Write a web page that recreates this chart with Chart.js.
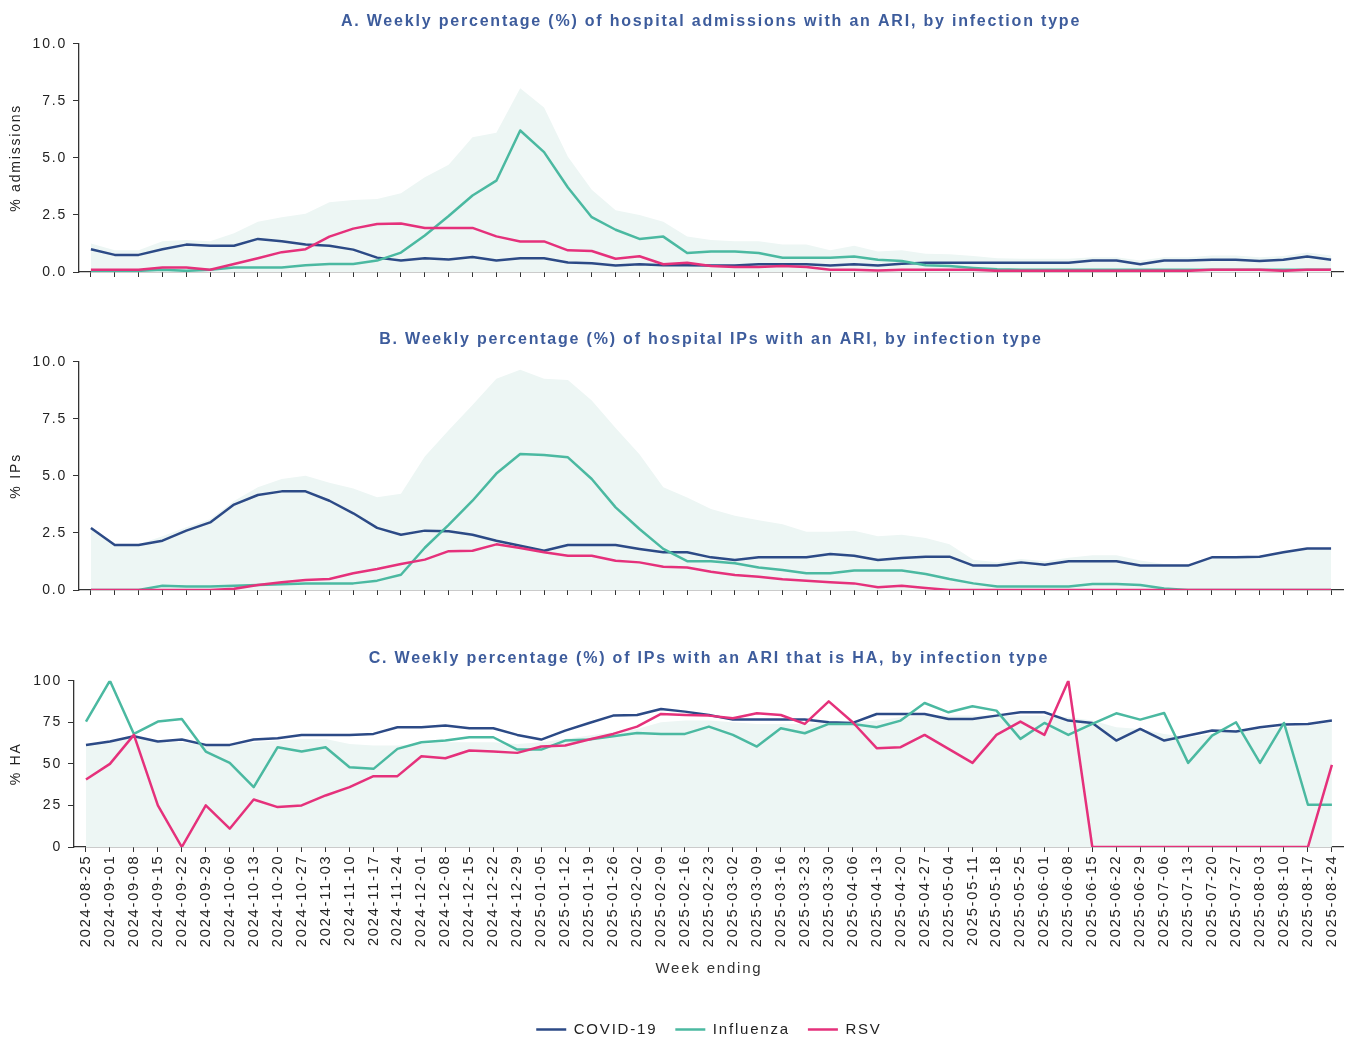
<!DOCTYPE html>
<html>
<head>
<meta charset="utf-8">
<script src="https://cdn.jsdelivr.net/npm/chart.js@4/dist/chart.umd.min.js"></script>
<style>
  html, body { margin:0; padding:0; background:#ffffff; overflow:hidden; }
  body { width:1352px; height:1037px; position:relative; }
  canvas { position:absolute; left:0; }
</style>
</head>
<body>
<canvas id="chartA" width="1352" height="300" style="top:0px"></canvas>
<canvas id="chartB" width="1352" height="300" style="top:318px"></canvas>
<canvas id="chartC" width="1352" height="410" style="top:637px"></canvas>
<script>
// ---------------- DATA ----------------
const weeks = ["2024-08-25","2024-09-01","2024-09-08","2024-09-15","2024-09-22","2024-09-29","2024-10-06","2024-10-13","2024-10-20","2024-10-27","2024-11-03","2024-11-10","2024-11-17","2024-11-24","2024-12-01","2024-12-08","2024-12-15","2024-12-22","2024-12-29","2025-01-05","2025-01-12","2025-01-19","2025-01-26","2025-02-02","2025-02-09","2025-02-16","2025-02-23","2025-03-02","2025-03-09","2025-03-16","2025-03-23","2025-03-30","2025-04-06","2025-04-13","2025-04-20","2025-04-27","2025-05-04","2025-05-11","2025-05-18","2025-05-25","2025-06-01","2025-06-08","2025-06-15","2025-06-22","2025-06-29","2025-07-06","2025-07-13","2025-07-20","2025-07-27","2025-08-03","2025-08-10","2025-08-17","2025-08-24"];

const seriesNames = ["COVID-19", "Influenza", "RSV"];

// Panel A: % of hospital admissions with an ARI
const admCovid = [1.0,0.75,0.75,1.0,1.2,1.15,1.15,1.45,1.35,1.2,1.15,0.98,0.63,0.5,0.6,0.55,0.66,0.5,0.6,0.6,0.42,0.38,0.28,0.34,0.3,0.3,0.28,0.28,0.34,0.34,0.34,0.28,0.34,0.28,0.36,0.41,0.41,0.41,0.41,0.41,0.41,0.41,0.5,0.5,0.34,0.5,0.5,0.54,0.54,0.48,0.54,0.68,0.54];
const admFlu   = [0.0,0.0,0.05,0.1,0.05,0.1,0.2,0.2,0.2,0.3,0.35,0.35,0.5,0.85,1.6,2.45,3.35,4.0,6.2,5.25,3.7,2.4,1.85,1.45,1.55,0.83,0.9,0.9,0.83,0.62,0.62,0.62,0.68,0.54,0.48,0.3,0.26,0.18,0.12,0.1,0.1,0.1,0.1,0.1,0.1,0.1,0.1,0.1,0.1,0.1,0.1,0.1,0.1];
const admRsv   = [0.1,0.1,0.1,0.2,0.2,0.1,0.35,0.6,0.87,1.0,1.55,1.9,2.1,2.12,1.93,1.93,1.93,1.56,1.34,1.34,0.95,0.92,0.58,0.69,0.34,0.41,0.26,0.22,0.22,0.26,0.22,0.1,0.1,0.07,0.1,0.1,0.1,0.1,0.05,0.05,0.05,0.05,0.05,0.05,0.05,0.05,0.05,0.1,0.1,0.1,0.05,0.1,0.1];
const admAll   = [1.25,0.95,0.95,1.35,1.4,1.35,1.7,2.2,2.4,2.55,3.05,3.15,3.2,3.45,4.15,4.7,5.9,6.1,8.05,7.2,5.05,3.6,2.7,2.5,2.2,1.55,1.4,1.35,1.35,1.2,1.2,0.95,1.15,0.9,0.95,0.8,0.78,0.7,0.6,0.58,0.58,0.58,0.65,0.65,0.5,0.65,0.65,0.72,0.72,0.65,0.7,0.85,0.72];

// Panel B: % of hospital IPs with an ARI
const ipCovid = [2.72,1.97,1.97,2.16,2.6,2.96,3.74,4.16,4.32,4.32,3.91,3.36,2.72,2.42,2.6,2.57,2.42,2.16,1.94,1.72,1.97,1.97,1.97,1.8,1.65,1.65,1.43,1.31,1.43,1.43,1.43,1.58,1.5,1.31,1.4,1.46,1.46,1.07,1.07,1.21,1.11,1.26,1.26,1.26,1.07,1.07,1.07,1.43,1.43,1.46,1.65,1.82,1.82];
const ipFlu   = [0,0,0,0.19,0.15,0.15,0.19,0.22,0.25,0.29,0.29,0.29,0.41,0.67,1.85,2.85,3.91,5.1,5.96,5.91,5.81,4.86,3.62,2.67,1.8,1.26,1.26,1.17,0.99,0.88,0.73,0.73,0.85,0.85,0.85,0.7,0.48,0.29,0.15,0.15,0.15,0.15,0.26,0.26,0.22,0.07,0,0,0,0,0,0,0];
const ipRsv   = [0,0,0,0,0,0,0.05,0.22,0.34,0.44,0.48,0.73,0.92,1.14,1.33,1.7,1.72,2.0,1.84,1.65,1.5,1.5,1.28,1.21,1.02,0.99,0.8,0.66,0.58,0.47,0.41,0.34,0.29,0.12,0.19,0.09,0,0,0,0,0,0,0,0,0,0,0,0,0,0,0,0,0];
const ipAll   = [2.75,2.0,2.0,2.35,2.75,3.1,3.9,4.5,4.86,5.0,4.7,4.45,4.06,4.22,5.85,7.0,8.1,9.25,9.65,9.25,9.2,8.3,7.1,5.95,4.5,4.05,3.55,3.25,3.05,2.88,2.55,2.55,2.6,2.35,2.42,2.28,2.0,1.33,1.22,1.36,1.26,1.41,1.52,1.52,1.29,1.14,1.07,1.43,1.43,1.46,1.65,1.82,1.82];

// Panel C: % of IPs with an ARI that is hospital-acquired (HA)
const haCovid = [61.4,63.4,66.6,63.4,64.6,61.4,61.4,64.6,65.4,67.4,67.4,67.4,68,72,72,73,71.4,71.4,67.4,64.6,70,74.6,79,79.4,83,81.4,79.4,76.6,76.6,76.6,76.6,75,74.6,80,80,80,77,77,79,81,81,76,74.6,64,71,64,67,70,69.4,72,73.6,74,76];
const haFlu   = [75.4,100,68,75.4,77,57.4,50.6,36,60,57.4,60,48,47,59,63,64,66,66,58.6,58.6,64,64.6,66.6,68.6,68,68,72.4,67.4,60.4,71.4,68.4,74,74,72,76,86.6,81,84.6,82,65,74.6,67.4,74,80.4,76.6,80.6,50.6,67,75,50.6,74.6,25.4,25.4];
const haRsv   = [40.6,50,67.4,25,0,25,11,28.6,24,25,31,36,42.6,42.6,54.6,53.4,58,57.4,56.6,60.4,61,64.6,68,72.4,80,79.4,79,77.4,80.4,79.4,74,87.6,75,59.4,60,67.4,59,50.6,67.4,75.4,67.4,100,0,0,0,0,0,0,0,0,0,0,49.4];
const haAll   = [61,63,66,63,63,61,61,63,64,65,65,62,61,61,62,63,63,63,62,63,65,67,69,71,75,76,76,75,74,74,74,75,75,76,78,79,79,79,79,79,79,78,76,72,71,68,66,68,70,71,72,73,75];

const yTicksA = [0, 2.5, 5, 7.5, 10];
const yTicksC = [0, 25, 50, 75, 100];

// ---------------- STYLE ----------------
const COLORS = { covid:'#2c4a86', flu:'#4bb9a1', rsv:'#e5317b', shade:'#edf6f4' };
const FONT = "'Liberation Sans', Arial, sans-serif";
Chart.defaults.font.family = FONT;
Chart.defaults.font.size = 14;
Chart.defaults.color = '#222';
const LS = '1.8px';

const spacingPlugin = {
  id: 'letterSpacing',
  beforeLayout(chart) { chart.ctx.letterSpacing = LS; },
  beforeDraw(chart) { chart.ctx.letterSpacing = LS; }
};

function lineDs(label, data, color, order) {
  return { label, data, borderColor: color, backgroundColor: color, borderWidth: 2.5,
           pointRadius: 0, pointHoverRadius: 0, tension: 0, fill: false, order,
           borderJoinStyle: 'round' };
}

function makeChart(id, cfg) {
  const ds = [
    lineDs(seriesNames[0], cfg.covid, COLORS.covid, 3),
    lineDs(seriesNames[1], cfg.flu, COLORS.flu, 2),
    lineDs(seriesNames[2], cfg.rsv, COLORS.rsv, 1),
    { label: 'All ARI', data: cfg.all, fill: 'origin', backgroundColor: COLORS.shade,
      borderColor: 'rgba(0,0,0,0)', borderWidth: 0, pointRadius: 0, pointHoverRadius: 0,
      tension: 0, order: 10 }
  ];
  const xScale = {
    type: 'category', offset: true,
    grid: { drawOnChartArea: false, drawTicks: true, tickLength: 5, color: '#333', lineWidth: 1, offset: false },
    border: { display: true, color: '#333', width: 1.3 },
    ticks: cfg.showX
      ? { autoSkip: false, maxRotation: 90, minRotation: 90, padding: 2.5, color: '#222', font: { size: 14.6 } }
      : { display: false, autoSkip: false },
  };
  if (cfg.showX) {
    xScale.title = { display: true, text: 'Week ending', color: '#333', font: { size: 15 }, padding: { top: 0, bottom: 26 } };
    xScale.afterFit = (s) => { s.height = cfg.xHeight; };
  }
  return new Chart(document.getElementById(id), {
    type: 'line',
    data: { labels: weeks, datasets: ds },
    plugins: [spacingPlugin],
    options: {
      responsive: false,
      animation: false,
      events: [],
      devicePixelRatio: 1,
      layout: { padding: { left: 0, right: cfg.padRight, top: 0, bottom: cfg.padBottom } },
      scales: {
        x: xScale,
        y: {
          min: 0, max: cfg.yMax,
          afterBuildTicks: (s) => { s.ticks = cfg.yTicks.map(v => ({ value: v })); },
          ticks: { callback: cfg.fmt, color: '#222', padding: 6, font: { size: 14 } },
          grid: { drawOnChartArea: false, drawTicks: true, tickLength: 6, color: '#333', lineWidth: 1 },
          border: { display: true, color: '#333', width: 1.3 },
          title: { display: true, text: cfg.yTitle, color: '#222', font: { size: 14 }, padding: { top: 8, bottom: 0 } },
          afterFit: (s) => { s.width = cfg.yWidth; }
        }
      },
      plugins: {
        title: { display: true, text: cfg.title, fullSize: false, color: '#3d5c9c',
                 font: { size: 16, weight: 'bold' }, padding: { top: 12, bottom: 12.5 } },
        legend: cfg.legend ? {
          display: true, position: 'bottom', fullSize: false,
          labels: { usePointStyle: true, pointStyle: 'line', pointStyleWidth: 30, padding: 18,
                    color: '#222', font: { size: 15 },
                    filter: (item) => item.datasetIndex < 3,
                    sort: (a, b) => a.datasetIndex - b.datasetIndex }
        } : { display: false },
        tooltip: { enabled: false }
      }
    }
  });
}

makeChart('chartA', {
  title: 'A. Weekly percentage (%) of hospital admissions with an ARI, by infection type',
  yTitle: '% admissions', yMax: 10, yTicks: yTicksA, fmt: (v) => Number(v).toFixed(1),
  covid: admCovid, flu: admFlu, rsv: admRsv, all: admAll,
  yWidth: 79, padRight: 9, padBottom: 23, showX: false, legend: false
});
makeChart('chartB', {
  title: 'B. Weekly percentage (%) of hospital IPs with an ARI, by infection type',
  yTitle: '% IPs', yMax: 10, yTicks: yTicksA, fmt: (v) => Number(v).toFixed(1),
  covid: ipCovid, flu: ipFlu, rsv: ipRsv, all: ipAll,
  yWidth: 79, padRight: 9, padBottom: 23, showX: false, legend: false
});
makeChart('chartC', {
  title: 'C. Weekly percentage (%) of IPs with an ARI that is HA, by infection type',
  yTitle: '% HA', yMax: 100, yTicks: yTicksC, fmt: (v) => String(v),
  covid: haCovid, flu: haFlu, rsv: haRsv, all: haAll,
  yWidth: 74, padRight: 8, padBottom: 0, showX: true, xHeight: 157, legend: true
});
</script>
</body>
</html>
